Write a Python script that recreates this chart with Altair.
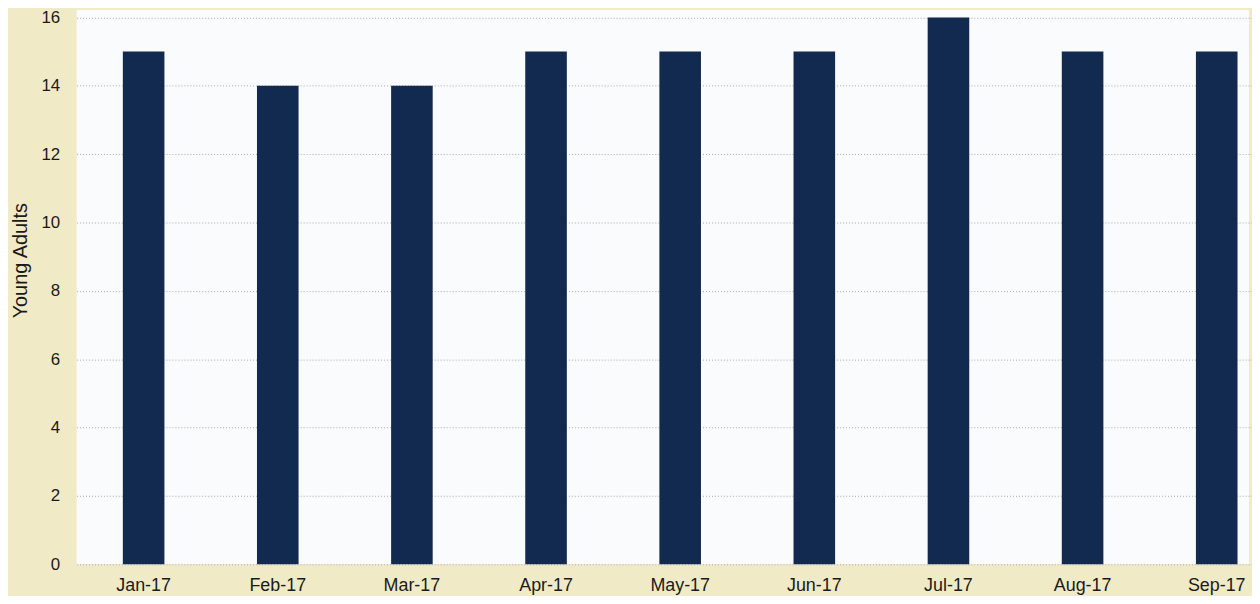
import altair as alt
import pandas as pd

months = ["Jan-17", "Feb-17", "Mar-17", "Apr-17", "May-17", "Jun-17", "Jul-17", "Aug-17", "Sep-17"]
young_adults = [15, 14, 14, 15, 15, 15, 16, 15, 15]
y_ticks = [0, 2, 4, 6, 8, 10, 12, 14, 16]

df = pd.DataFrame({"Month": months, "Young Adults": young_adults})

chart = (
    alt.Chart(df)
    .mark_bar(color="#122a50")
    .encode(
        x=alt.X(
            "Month:N",
            sort=months,
            title=None,
            scale=alt.Scale(range=[0, 1215], paddingInner=0.69, paddingOuter=0.345),
            axis=alt.Axis(
                labelAngle=0,
                ticks=False,
                domain=False,
                grid=False,
                labelFont="Liberation Sans",
                labelFontSize=18,
                labelColor="#1a1a1a",
                labelPadding=12,
            ),
        ),
        y=alt.Y(
            "Young Adults:Q",
            scale=alt.Scale(domain=[0, 16.22], nice=False, zero=True),
            axis=alt.Axis(
                values=y_ticks,
                ticks=False,
                domain=False,
                grid=True,
                gridColor="#a9a9a9",
                gridDash=[1, 2],
                gridWidth=1,
                labelFont="Liberation Sans",
                labelFontSize=17,
                labelColor="#1a1a1a",
                labelPadding=17,
                title="Young Adults",
                titleFont="Liberation Sans",
                titleFontSize=20,
                titleFontWeight="normal",
                titleColor="#1a1a1a",
                titleX=-56,
                titleY=252,
                titleBaseline="middle",
                titleAngle=270,
            ),
        ),
    )
    .properties(
        width=1180,
        height=558,
        background="#f0eac6",
        autosize=alt.AutoSizeParams(type="none"),
        padding={"left": 69, "top": 0, "right": 3, "bottom": 30},
    )
    .configure_view(fill="#fafbfc", stroke=None)
)

chart.save("out.html", embed_options={"renderer": "svg", "actions": False})
